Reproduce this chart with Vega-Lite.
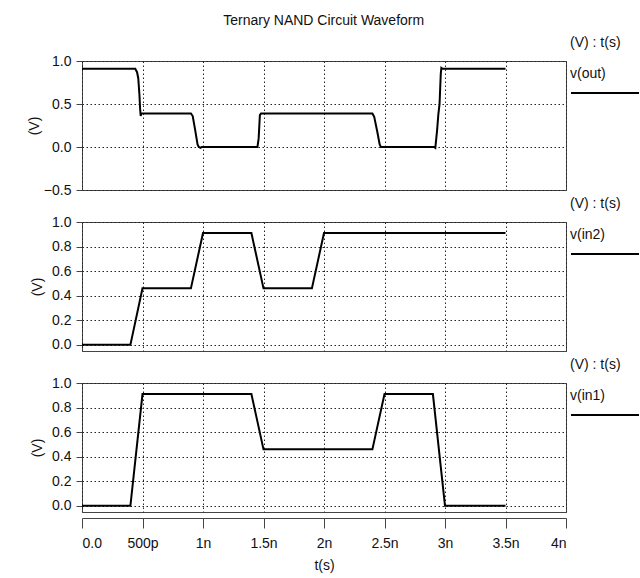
{
  "$schema": "https://vega.github.io/schema/vega-lite/v6.json",
  "padding": {"left": 26, "top": 13, "right": 0, "bottom": 4},
  "title": {"text": "Ternary NAND Circuit Waveform", "anchor": "middle", "fontSize": 14, "fontWeight": "normal", "font": "Liberation Sans", "color": "#111", "offset": 8, "dx": -26},
  "config": {
    "font": "Liberation Sans",
    "view": {"stroke": "#444", "strokeWidth": 1},
    "axis": {"labelFont": "Liberation Sans", "labelFontSize": 14, "labelColor": "#111", "titleFont": "Liberation Sans", "titleFontSize": 14, "titleFontWeight": "normal", "titleColor": "#111", "gridColor": "#222", "gridDash": [1.5, 2.5], "gridOpacity": 1, "tickColor": "#444", "domainColor": "#444"},
    "axisY": {"tickSize": 6, "labelPadding": 5, "domain": false, "minExtent": 36, "titlePadding": 2, "grid": true},
    "legend": {"orient": "right", "offset": -2, "padding": 6, "symbolType": "stroke", "symbolSize": 4624, "symbolStrokeWidth": 2, "titleFont": "Liberation Sans", "titleFontSize": 14, "titleFontWeight": "normal", "titleColor": "#111", "titlePadding": -23, "labelExpr": "''", "labelOffset": 0},
    "title": {"font": "Liberation Sans", "fontSize": 14, "fontWeight": "normal", "color": "#111"}
  },
  "datasets": {
    "out": [
      {"t": 0, "v": 0.91, "s": "v(out)"}, {"t": 0.44, "v": 0.91, "s": "v(out)"}, {"t": 0.455, "v": 0.87, "s": "v(out)"}, {"t": 0.465, "v": 0.8, "s": "v(out)"}, {"t": 0.475, "v": 0.6, "s": "v(out)"}, {"t": 0.48, "v": 0.45, "s": "v(out)"}, {"t": 0.485, "v": 0.36, "s": "v(out)"}, {"t": 0.49, "v": 0.39, "s": "v(out)"},
      {"t": 0.9, "v": 0.39, "s": "v(out)"}, {"t": 0.915, "v": 0.36, "s": "v(out)"}, {"t": 0.935, "v": 0.2, "s": "v(out)"}, {"t": 0.955, "v": 0.03, "s": "v(out)"}, {"t": 0.965, "v": 0.0, "s": "v(out)"}, {"t": 0.98, "v": -0.01, "s": "v(out)"}, {"t": 0.99, "v": 0.0, "s": "v(out)"},
      {"t": 1.45, "v": 0.0, "s": "v(out)"}, {"t": 1.46, "v": 0.1, "s": "v(out)"}, {"t": 1.47, "v": 0.37, "s": "v(out)"}, {"t": 1.48, "v": 0.39, "s": "v(out)"},
      {"t": 2.4, "v": 0.39, "s": "v(out)"}, {"t": 2.415, "v": 0.35, "s": "v(out)"}, {"t": 2.44, "v": 0.18, "s": "v(out)"}, {"t": 2.46, "v": 0.03, "s": "v(out)"}, {"t": 2.47, "v": 0.0, "s": "v(out)"},
      {"t": 2.91, "v": 0.0, "s": "v(out)"}, {"t": 2.92, "v": -0.01, "s": "v(out)"}, {"t": 2.935, "v": 0.2, "s": "v(out)"}, {"t": 2.945, "v": 0.38, "s": "v(out)"}, {"t": 2.955, "v": 0.5, "s": "v(out)"}, {"t": 2.965, "v": 0.85, "s": "v(out)"}, {"t": 2.97, "v": 0.92, "s": "v(out)"}, {"t": 2.98, "v": 0.91, "s": "v(out)"}, {"t": 3.5, "v": 0.91, "s": "v(out)"}
    ],
    "in2": [
      {"t": 0, "v": 0, "s": "v(in2)"}, {"t": 0.4, "v": 0, "s": "v(in2)"}, {"t": 0.5, "v": 0.46, "s": "v(in2)"}, {"t": 0.9, "v": 0.46, "s": "v(in2)"}, {"t": 1.0, "v": 0.91, "s": "v(in2)"}, {"t": 1.4, "v": 0.91, "s": "v(in2)"}, {"t": 1.5, "v": 0.46, "s": "v(in2)"}, {"t": 1.9, "v": 0.46, "s": "v(in2)"}, {"t": 2.0, "v": 0.91, "s": "v(in2)"}, {"t": 3.5, "v": 0.91, "s": "v(in2)"}
    ],
    "in1": [
      {"t": 0, "v": 0, "s": "v(in1)"}, {"t": 0.4, "v": 0, "s": "v(in1)"}, {"t": 0.5, "v": 0.91, "s": "v(in1)"}, {"t": 1.4, "v": 0.91, "s": "v(in1)"}, {"t": 1.5, "v": 0.46, "s": "v(in1)"}, {"t": 2.4, "v": 0.46, "s": "v(in1)"}, {"t": 2.5, "v": 0.91, "s": "v(in1)"}, {"t": 2.9, "v": 0.91, "s": "v(in1)"}, {"t": 3.0, "v": 0, "s": "v(in1)"}, {"t": 3.5, "v": 0, "s": "v(in1)"}
    ]
  },
  "spacing": 32,
  "bounds": "flush",
  "resolve": {"scale": {"color": "independent"}, "legend": {"color": "independent"}},
  "vconcat": [
    {
      "width": 484, "height": 129,
      "data": {"name": "out"},
      "title": {"text": "(V) : t(s)", "anchor": "end", "align": "left", "dx": 4, "frame": "group", "offset": 4},
      "mark": {"type": "line", "strokeWidth": 2},
      "encoding": {
        "x": {"field": "t", "type": "quantitative", "scale": {"domain": [0, 4], "nice": false}, "axis": {"values": [0, 0.5, 1, 1.5, 2, 2.5, 3, 3.5, 4], "labels": false, "ticks": false, "domain": false, "title": null, "grid": true}},
        "y": {"field": "v", "type": "quantitative", "scale": {"domain": [-0.5, 1], "nice": false, "zero": false}, "axis": {"values": [-0.5, 0, 0.5, 1], "format": ".1f", "title": "(V)"}},
        "color": {"field": "s", "type": "nominal", "scale": {"range": ["black"]}, "legend": {"title": "v(out)"}}
      }
    },
    {
      "width": 484, "height": 129,
      "data": {"name": "in2"},
      "title": {"text": "(V) : t(s)", "anchor": "end", "align": "left", "dx": 4, "frame": "group", "offset": 4},
      "mark": {"type": "line", "strokeWidth": 2},
      "encoding": {
        "x": {"field": "t", "type": "quantitative", "scale": {"domain": [0, 4], "nice": false}, "axis": {"values": [0, 0.5, 1, 1.5, 2, 2.5, 3, 3.5, 4], "labels": false, "ticks": false, "domain": false, "title": null, "grid": true}},
        "y": {"field": "v", "type": "quantitative", "scale": {"domain": [-0.05, 1], "nice": false, "zero": false}, "axis": {"values": [0, 0.2, 0.4, 0.6, 0.8, 1], "format": ".1f", "title": "(V)"}},
        "color": {"field": "s", "type": "nominal", "scale": {"range": ["black"]}, "legend": {"title": "v(in2)"}}
      }
    },
    {
      "width": 484, "height": 129,
      "data": {"name": "in1"},
      "title": {"text": "(V) : t(s)", "anchor": "end", "align": "left", "dx": 4, "frame": "group", "offset": 4},
      "mark": {"type": "line", "strokeWidth": 2},
      "encoding": {
        "x": {"field": "t", "type": "quantitative", "scale": {"domain": [0, 4], "nice": false}, "axis": {"values": [0, 0.5, 1, 1.5, 2, 2.5, 3, 3.5, 4], "labelExpr": "datum.value == 0 ? '0.0' : datum.value == 0.5 ? '500p' : datum.value + 'n'", "offset": 6, "tickSize": 10, "domain": true, "ticks": true, "labelPadding": 8, "title": "t(s)", "titlePadding": 8, "grid": true}},
        "y": {"field": "v", "type": "quantitative", "scale": {"domain": [-0.05, 1], "nice": false, "zero": false}, "axis": {"values": [0, 0.2, 0.4, 0.6, 0.8, 1], "format": ".1f", "title": "(V)"}},
        "color": {"field": "s", "type": "nominal", "scale": {"range": ["black"]}, "legend": {"title": "v(in1)"}}
      }
    }
  ]
}
